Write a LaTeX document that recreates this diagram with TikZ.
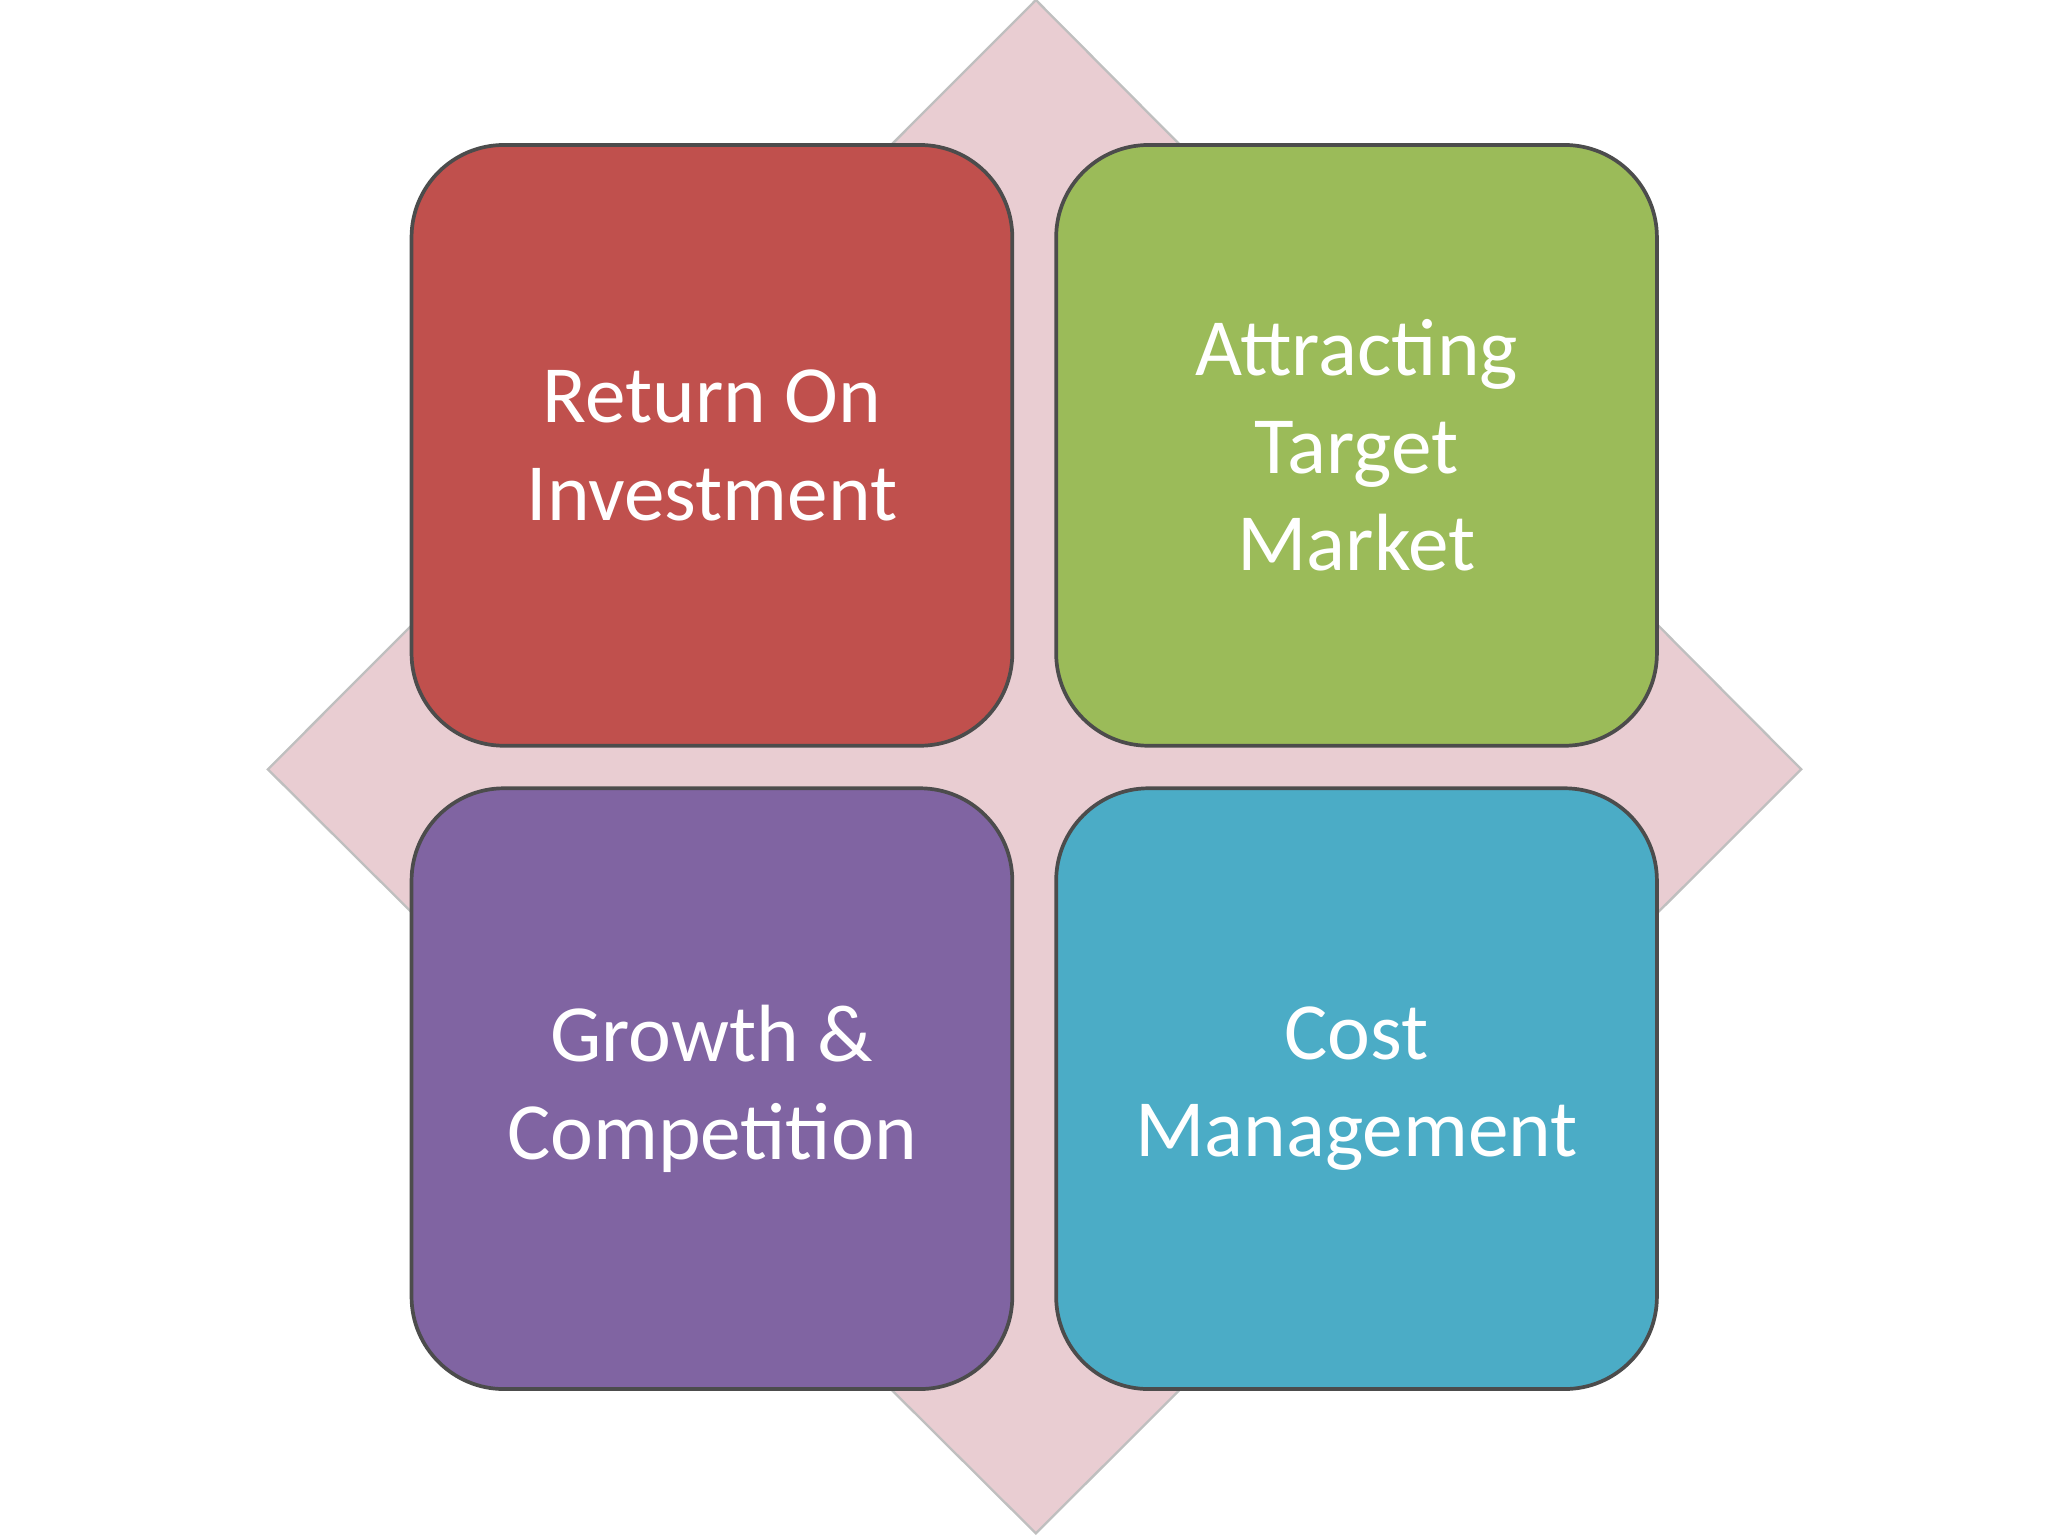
\documentclass[tikz,border=0pt]{standalone}
\usepackage{fontspec}
\setmainfont{Carlito}
\definecolor{rd}{HTML}{C0504D}
\definecolor{gr}{HTML}{9BBB59}
\definecolor{pu}{HTML}{8064A2}
\definecolor{bl}{HTML}{4BACC6}
\definecolor{pk}{HTML}{E9CDD2}
\begin{document}
\begin{tikzpicture}[x=0.01cm,y=-0.01cm,
  tile/.style={draw=black!70,line width=0.8pt,rounded corners=0.7cm,minimum width=4.55cm,minimum height=4.55cm,text=white,align=center,font=\fontsize{17.5}{21}\selectfont,inner sep=0pt}]
\useasboundingbox (0,0) rectangle (1552,1164);
\draw[fill=pk,draw=black!25,line width=0.5pt] (785,0) -- (1365,583) -- (785,1162) -- (203,583) -- cycle;
\node[tile,fill=rd] (roi) at (539.5,337.5) {Return On\\Investment};
\node[tile,fill=gr] (atm) at (1028,337.5) {Attracting\\Target\\Market};
\node[tile,fill=pu] (gc) at (539.5,825) {Growth \&\\Competition};
\node[tile,fill=bl] (cm) at (1028,825) {Cost\\Management};
\end{tikzpicture}
\end{document}
